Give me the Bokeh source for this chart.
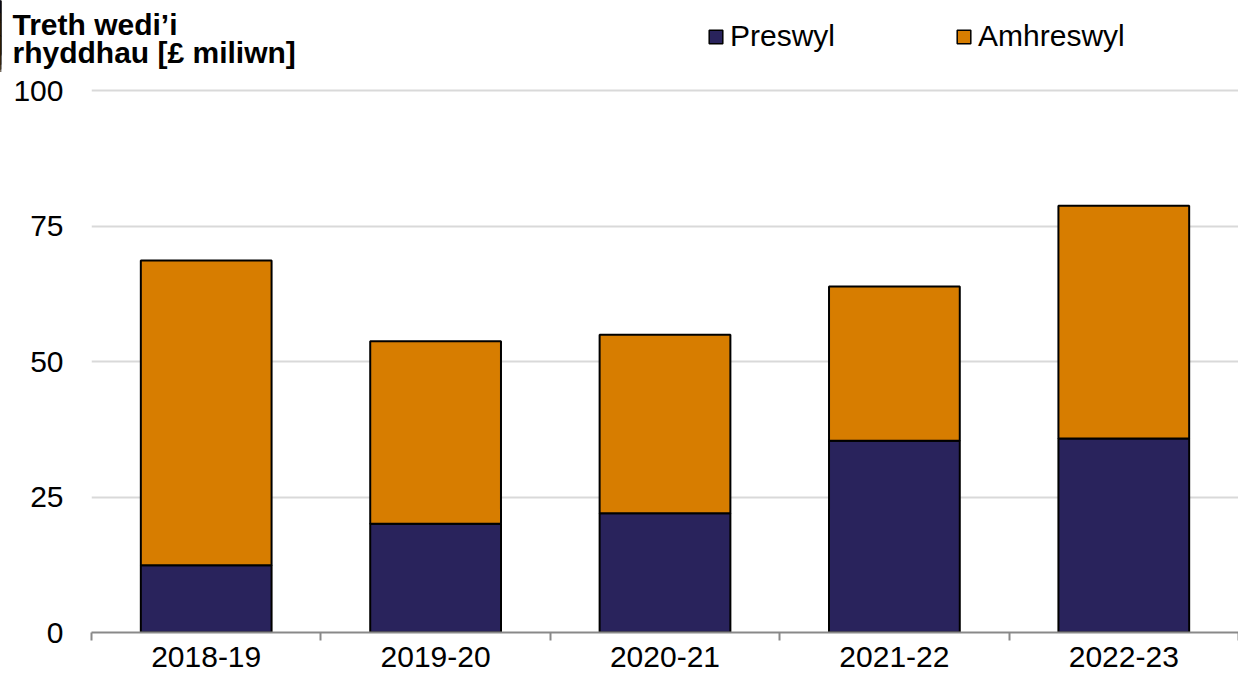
from bokeh.plotting import figure
from bokeh.layouts import column
from bokeh.models import (Range1d, FixedTicker, Legend, LegendItem,
                          Label, ColumnDataSource)
from bokeh.embed import file_html
from bokeh.resources import INLINE

years = ["2018-19", "2019-20", "2020-21", "2021-22", "2022-23"]
preswyl = [12.4, 20.1, 22.0, 35.4, 35.8]
amhreswyl = [56.3, 33.7, 33.0, 28.5, 43.0]
series_names = ["Preswyl", "Amhreswyl"]
colors = ["#29235C", "#D77D00"]
y_ticks = [0, 25, 50, 75, 100]
title_lines = ["Treth wedi\u2019i", "rhyddhau [\u00a3 miliwn]"]

FONT = "Liberation Sans"
W = 1238
HEAD_H = 72

centers = [i + 0.5 for i in range(len(years))]
src = ColumnDataSource(dict(xc=centers, year=years, Preswyl=preswyl, Amhreswyl=amhreswyl))

# ---------------- header (title + legend) ----------------
h = figure(width=W, height=HEAD_H, output_backend="svg", toolbar_location=None,
           x_range=Range1d(0, W), y_range=Range1d(HEAD_H, 0),
           x_axis_location=None, y_axis_location=None,
           min_border=0, min_border_left=0, min_border_right=0,
           min_border_top=0, min_border_bottom=0)
h.frame_align = False
h.outline_line_color = None
h.xgrid.visible = False
h.ygrid.visible = False
h.background_fill_color = "white"
h.border_fill_color = "white"

for txt, base in zip(title_lines, [24, 52]):
    h.add_layout(Label(x=12, y=base, text=txt, text_font=FONT, text_font_size="30px",
                       text_font_style="bold", text_color="black",
                       text_baseline="alphabetic", text_align="left"))

# legend keys: the same stack on a key range that lies just left of the header's view
h.extra_x_ranges = {"keys": Range1d(len(years) + 1, len(years) + 21)}
key_r = h.vbar_stack(series_names, x="xc", width=0.57, source=src, x_range_name="keys",
                     fill_color=colors, line_color="black", line_width=1.5)
legend = Legend(items=[LegendItem(label=n, renderers=[rr]) for n, rr in zip(series_names, key_r)],
                orientation="horizontal", location=(707, 19),
                glyph_width=17, glyph_height=17, label_standoff=6, spacing=120,
                padding=0, margin=0, border_line_color=None, background_fill_alpha=0,
                label_text_font=FONT, label_text_font_size="30px",
                label_text_color="black")
h.add_layout(legend, "center")

# ---------------- main chart ----------------
p = figure(width=W, height=679 - HEAD_H, output_backend="svg", toolbar_location=None,
           x_range=Range1d(0, len(years)), y_range=Range1d(0, 101),
           min_border_top=13, min_border_left=91, min_border_right=0,
           min_border_bottom=47)
p.frame_align = False
p.outline_line_color = None
p.background_fill_color = "white"
p.border_fill_color = "white"

p.vbar_stack(series_names, x="xc", width=0.57, source=src,
             fill_color=colors, line_color="black", line_width=2)

xa = p.xaxis[0]
xa.ticker = FixedTicker(ticks=centers, minor_ticks=list(range(len(years) + 1)))
xa.major_label_overrides = {c: y for c, y in zip(centers, years)}
xa.major_tick_line_color = None
xa.major_tick_out = 8
xa.major_tick_in = 0
xa.minor_tick_out = 8
xa.minor_tick_in = 0
xa.minor_tick_line_color = "#898989"
xa.minor_tick_line_width = 2
xa.axis_line_color = "#898989"
xa.axis_line_width = 2
xa.major_label_standoff = 6
xa.major_label_text_font = FONT
xa.major_label_text_font_size = "30px"
xa.major_label_text_color = "black"

p.yaxis.ticker = FixedTicker(ticks=y_ticks)
p.yaxis.axis_line_color = None
p.yaxis.major_tick_line_color = None
p.yaxis.major_tick_out = 0
p.yaxis.major_tick_in = 0
p.yaxis.minor_tick_line_color = None
p.yaxis.major_label_standoff = 28
p.yaxis.major_label_text_font = FONT
p.yaxis.major_label_text_font_size = "30px"
p.yaxis.major_label_text_color = "black"

p.xgrid.grid_line_color = None
p.ygrid.ticker = FixedTicker(ticks=y_ticks)
p.ygrid.grid_line_color = "#D9D9D9"
p.ygrid.grid_line_width = 2

layout = column(h, p, spacing=0)
open("out.html", "w").write(file_html(layout, INLINE))
